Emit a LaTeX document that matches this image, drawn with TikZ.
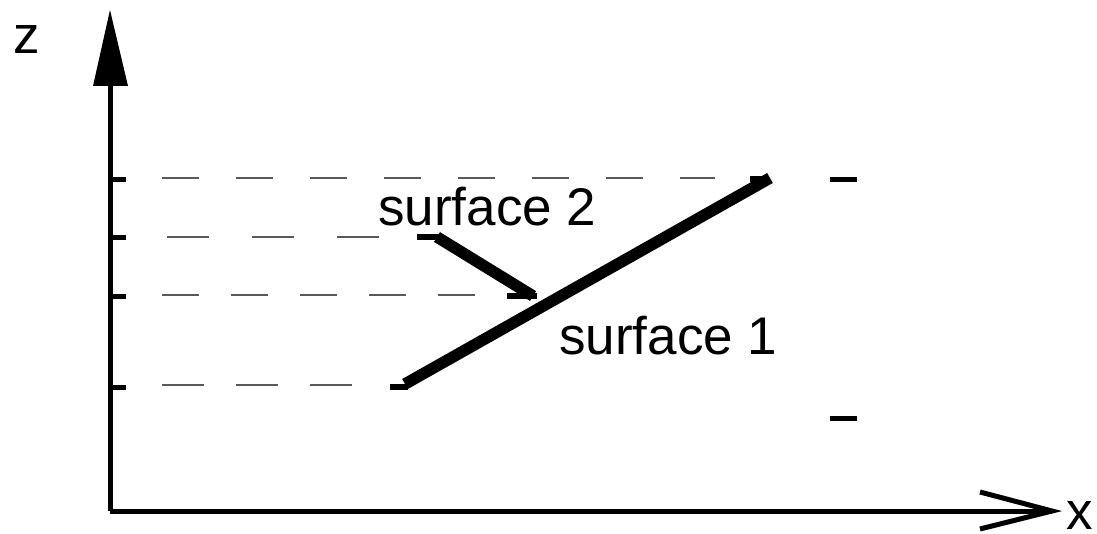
\documentclass[tikz,border=0pt]{standalone}
\usepackage{fontspec}
\setmainfont{Liberation Sans}
\begin{document}
\begin{tikzpicture}[x=1pt,y=-1pt,
  axis/.style={line width=5pt},
  tickmark/.style={line width=5pt},
  guide/.style={line width=1.5pt, black!65},
  surf/.style={line width=11.5pt},
  stub/.style={line width=5.5pt},
  lbl/.style={font=\fontsize{53}{60}\selectfont, inner sep=0pt, anchor=base west}]
\useasboundingbox (0,0) rectangle (1097,534);
% axes
\coordinate (O) at (110,511);
\coordinate (zbase) at (110,84);
\coordinate (ztip) at (110,10);
\coordinate (xtip) at (1052,511);
\draw[axis] (O) -- (zbase);
\fill (ztip) -- (93,86) -- (128,86) -- cycle;
\draw[axis] (O) -- (xtip);
\draw[axis, line join=miter] (980,492) -- (xtip) -- (980,529);
\node[lbl] (zl) at (13,54) {z};
\node[lbl] (xl) at (1066,529) {x};
% ticks on z axis
\foreach \y in {180,238,297,387} \draw[tickmark] (110,\y) -- (126,\y);
% right ticks
\draw[tickmark] (830,180) -- (857,180);
\draw[tickmark] (830,418) -- (857,418);
% dashed guides
\draw[guide, dash pattern=on 37pt off 37pt] (162,178) -- (715,178);
\draw[guide, dash pattern=on 42pt off 43pt] (167,237) -- (380,237);
\draw[guide, dash pattern=on 37pt off 32pt] (162,295) -- (475,295);
\draw[guide, dash pattern=on 42pt off 32pt] (162,385) -- (354,385);
% surface 1
\coordinate (s1a) at (405,384);
\coordinate (s1b) at (770,178);
\draw[surf] (s1a) -- (s1b);
\draw[stub] (390,387) -- (408,387);
\draw[stub] (750,179) -- (768,179);
% surface 2 pointer
\coordinate (p2a) at (437,237);
\coordinate (p2b) at (533,296);
\draw[surf] (p2a) -- (p2b);
\draw[stub] (417,237) -- (439,237);
\draw[stub] (507,296) -- (537,296);
% labels
\node[lbl] (s2) at (378,226) {surface 2};
\node[lbl] (s1) at (559,354) {surface 1};
\end{tikzpicture}
\end{document}
